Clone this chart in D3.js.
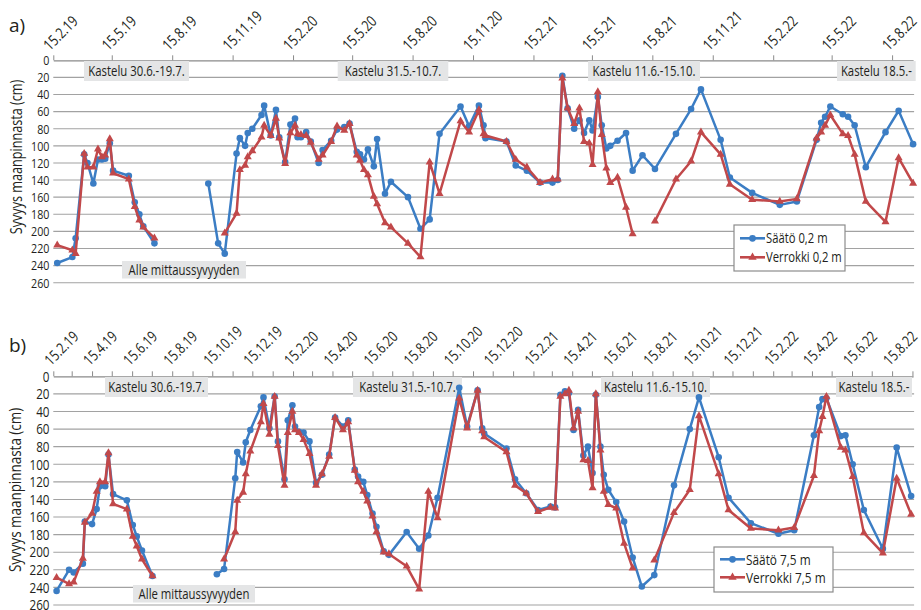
<!DOCTYPE html>
<html>
<head>
<meta charset="utf-8">
<script src="https://cdn.jsdelivr.net/npm/d3@7"></script>
<style>
  body { margin: 0; background: #fff; }
  text { font-family: "Open Sans", "Noto Sans", "DejaVu Sans", sans-serif; fill: #231f20; }
</style>
</head>
<body>
<svg id="chart" width="921" height="610"></svg>
<script>
// ---- Measurement dates and depths (cm below ground), 0.2 m tubes ----
const datesA = ["21.2.19","16.3.19","21.3.19","3.4.19","8.4.19","17.4.19","24.4.19","30.4.19","5.5.19","12.5.19","17.5.19","10.6.19","19.6.19","26.6.19","2.7.19","19.7.19",
  "9.10.19","24.10.19","3.11.19","21.11.19","26.11.19","4.12.19","8.12.19","15.12.19","29.12.19","2.1.20","12.1.20","20.1.20","25.1.20","3.2.20","11.2.20","18.2.20","22.2.20","27.2.20","6.3.20","13.3.20","25.3.20","31.3.20","13.4.20","22.4.20","3.5.20","11.5.20","22.5.20","27.5.20","2.6.20","8.6.20","17.6.20","22.6.20","4.7.20","13.7.20","8.8.20","27.8.20","10.9.20","25.9.20","27.10.20","9.11.20","24.11.20","1.12.20","4.12.20","5.1.21","19.1.21","5.2.21","25.2.21","16.3.21","24.3.21","31.3.21","8.4.21","18.4.21","26.4.21","3.5.21","11.5.21","16.5.21","24.5.21","30.5.21","6.6.21","12.6.21","23.6.21","6.7.21","16.7.21","31.7.21","19.8.21","20.9.21","13.10.21","28.10.21","27.11.21","11.12.21","14.1.22","25.2.22","23.3.22","22.4.22","29.4.22","5.5.22","13.5.22","1.6.22","9.6.22","19.6.22","6.7.22","5.8.22","25.8.22","16.9.22"];
const saatoA = [237,230,208,110,120,144,116,116,115,97,129,135,166,180,194,214,
  144,214,226,109,91,100,85,80,64,53,88,58,90,119,75,68,90,90,84,95,120,105,94,81,78,74,107,110,116,104,124,92,156,142,160,197,186,86,54,77,53,76,91,95,123,129,143,143,140,18,56,80,70,85,70,82,43,76,103,100,94,85,129,111,127,86,57,34,93,137,155,169,165,93,73,66,54,63,66,76,125,84,59,98];
const verrokkiA = [216,222,226,109,125,125,104,113,111,92,132,139,171,187,195,208,
  null,null,202,179,128,123,113,106,90,76,88,68,91,121,85,76,86,87,88,96,116,111,95,77,82,74,111,117,128,134,159,168,190,195,214,230,119,156,71,84,58,86,88,95,116,125,143,139,139,21,56,74,56,95,97,122,37,87,126,143,137,172,203,null,188,139,118,84,110,145,163,165,162,91,84,76,64,86,88,110,165,189,114,144];

// ---- 7.5 m tubes ----
const datesB = ["20.2.19","11.3.19","18.3.19","1.4.19","4.4.19","15.4.19","22.4.19","27.4.19","5.5.19","10.5.19","17.5.19","7.6.19","16.6.19","22.6.19","30.6.19","16.7.19",
  "22.10.19","2.11.19","19.11.19","22.11.19","1.12.19","5.12.19","12.12.19","28.12.19","1.1.20","10.1.20","18.1.20","23.1.20","2.2.20","7.2.20","14.2.20","18.2.20","24.2.20","2.3.20","11.3.20","21.3.20","30.3.20","10.4.20","19.4.20","1.5.20","9.5.20","19.5.20","24.5.20","1.6.20","7.6.20","15.6.20","21.6.20","2.7.20","10.7.20","6.8.20","25.8.20","8.9.20","22.9.20","25.10.20","6.11.20","22.11.20","29.11.20","2.12.20","5.1.21","18.1.21","4.2.21","22.2.21","13.3.21","20.3.21","28.3.21","4.4.21","10.4.21","17.4.21","24.4.21","2.5.21","9.5.21","16.5.21","21.5.21","28.5.21","2.6.21","9.6.21","21.6.21","3.7.21","16.7.21","30.7.21","18.8.21","17.9.21","11.10.21","25.10.21","24.11.21","9.12.21","12.1.22","23.2.22","19.3.22","18.4.22","26.4.22","1.5.22","7.5.22","29.5.22","5.6.22","16.6.22","3.7.22","1.8.22","22.8.22","13.9.22"];
const saatoB = [244,220,223,213,165,168,151,125,125,89,134,141,169,182,198,227,
  225,219,116,86,98,75,61,34,24,59,23,74,117,50,33,57,63,64,74,121,112,89,47,57,50,106,114,120,135,156,171,199,203,177,196,181,138,13,57,16,59,65,82,117,133,152,148,149,21,17,19,61,38,90,80,110,21,80,112,129,143,165,206,239,226,124,60,24,92,138,167,179,175,67,35,26,25,68,67,100,152,196,81,136];
const verrokkiB = [229,236,234,207,166,156,131,120,120,87,145,151,182,193,208,227,
  null,208,177,141,132,111,85,52,31,66,23,79,124,64,40,61,64,72,88,124,111,91,47,61,52,107,120,131,142,159,177,200,202,216,242,131,161,25,59,16,62,69,86,124,133,154,149,150,23,20,16,59,40,95,96,127,20,84,131,146,150,190,218,null,209,155,129,45,111,152,173,175,172,113,62,46,23,81,84,114,178,201,116,157];

// ---- Axis labels ----
const ticksA = ["15.2.19","15.5.19","15.8.19","15.11.19","15.2.20","15.5.20","15.8.20","15.11.20","15.2.21","15.5.21","15.8.21","15.11.21","15.2.22","15.5.22","15.8.22"];
const ticksB = ["15.2.19","15.4.19","15.6.19","15.8.19","15.10.19","15.12.19","15.2.20","15.4.20","15.6.20","15.8.20","15.10.20","15.12.20","15.2.21","15.4.21","15.6.21","15.8.21","15.10.21","15.12.21","15.2.22","15.4.22","15.6.22","15.8.22"];
const depthTicks = [0,20,40,60,80,100,120,140,160,180,200,220,240,260];
const irrigationNotes = ["Kastelu 30.6.-19.7.","Kastelu 31.5.-10.7.","Kastelu 11.6.-15.10.","Kastelu 18.5.-"];
const belowNote = "Alle mittaussyvyyden";
const yTitle = "Syvyys maanpinnasta (cm)";
const legendA = ["Säätö 0,2 m","Verrokki 0,2 m"];
const legendB = ["Säätö 7,5 m","Verrokki 7,5 m"];

const BLUE = "#3b7dc4", RED = "#c1484a";
const NARROW = 0.8;              // horizontal squeeze giving a condensed face
const parse = d3.timeParse("%d.%m.%y");
const fmt = d3.timeFormat("%-d.%-m.%y");
const svg = d3.select("#chart");

const x = d3.scaleTime()
  .domain([parse("15.2.19"), parse("16.9.22")])
  .range([53.3, 913.1]);

// place a text at (px, py), optionally rotated, drawn in the condensed width
function put(sel, px, py, rot) {
  return sel.attr("x", 0).attr("y", 0)
    .attr("transform", `translate(${px},${py})${rot ? ` rotate(${rot})` : ""} scale(${NARROW},1)`);
}

// split a series into points; a missing value or a long pause in measuring breaks the line
function points(dates, vals) {
  const out = [];
  let prev = null;
  dates.forEach((d, i) => {
    const date = parse(d);
    if (vals[i] != null && prev && (date - prev) / 864e5 > 60) out.push({ date, v: null });
    out.push({ date, v: vals[i] });
    if (vals[i] != null) prev = date;
  });
  return out;
}

function panel(o) {
  const g = svg.append("g");
  const y = d3.scaleLinear().domain([0, 260]).range([o.top, o.bottom]);
  const [x0, x1] = x.range();

  // horizontal grid
  g.append("g").selectAll("line").data(depthTicks.slice(1)).join("line")
    .attr("x1", x0).attr("x2", x1 + 1)
    .attr("y1", d => y(d)).attr("y2", d => y(d))
    .attr("stroke", "#a2a2a2").attr("stroke-width", 1.1);

  // depth labels
  g.append("g").selectAll("text").data(depthTicks).join("text")
    .each(function (d) { put(d3.select(this), 49.5, y(d)); })
    .attr("dy", "0.36em").attr("text-anchor", "end").style("font-size", o.yFont + "px")
    .text(d => d);

  // time axis along the top
  const labelled = new Set(o.labels.map(s => +parse(s)));
  const axis = d3.axisTop(x).tickValues(o.tickDates).tickSize(5).tickSizeOuter(0)
    .tickFormat(d => labelled.has(+d) ? fmt(d) : "");
  const ax = g.append("g").attr("transform", `translate(0,${o.top})`).call(axis);
  ax.select(".domain").attr("stroke", "#8a8a8a").attr("stroke-width", 1.2);
  ax.selectAll(".tick line").attr("stroke", "#8a8a8a");
  ax.selectAll(".tick text")
    .each(function () { put(d3.select(this), o.lx, o.ly, -45); })
    .attr("dy", null).attr("text-anchor", "start").attr("fill", "#231f20")
    .style("font-size", o.xFont + "px")
    .style("font-family", "'Open Sans','Noto Sans','DejaVu Sans',sans-serif");

  // note boxes
  o.notes.forEach(n => {
    g.append("rect").attr("x", n.x).attr("y", n.y).attr("width", n.w).attr("height", n.h).attr("fill", "#e4e5e6");
    put(g.append("text"), n.x + n.w / 2, n.y + n.h / 2).attr("dy", "0.36em")
      .attr("text-anchor", "middle").style("font-size", o.noteFont + "px").text(n.t);
  });

  // series
  const line = d3.line().defined(d => d.v != null).x(d => x(d.date)).y(d => y(d.v));
  const series = [
    { pts: points(o.dates, o.s1), color: BLUE, shape: "circle" },
    { pts: points(o.dates, o.s2), color: RED, shape: "triangle" }
  ];
  series.forEach(s => {
    g.append("path").datum(s.pts).attr("d", line)
      .attr("fill", "none").attr("stroke", s.color).attr("stroke-width", 2.5).attr("stroke-linejoin", "round");
    const pts = s.pts.filter(d => d.v != null);
    if (s.shape === "circle") {
      g.append("g").selectAll("circle").data(pts).join("circle")
        .attr("cx", d => x(d.date)).attr("cy", d => y(d.v)).attr("r", 3.3).attr("fill", s.color);
    } else {
      const tri = d3.symbol(d3.symbolTriangle, 28)();
      g.append("g").selectAll("path").data(pts).join("path")
        .attr("d", tri).attr("transform", d => `translate(${x(d.date)},${y(d.v)})`).attr("fill", s.color);
    }
  });

  // legend
  const L = o.legend;
  g.append("rect").attr("x", L.x).attr("y", L.y).attr("width", L.w).attr("height", L.h)
    .attr("fill", "#fff").attr("stroke", "#8c8c8c").attr("stroke-width", 1.2);
  [[o.legendText[0], BLUE, "circle"], [o.legendText[1], RED, "triangle"]].forEach((e, i) => {
    const ly = L.y + L.r0 + i * L.dy;
    g.append("line").attr("x1", L.x + 6).attr("x2", L.x + 31).attr("y1", ly).attr("y2", ly)
      .attr("stroke", e[1]).attr("stroke-width", 2.6);
    if (e[2] === "circle") g.append("circle").attr("cx", L.x + 18.5).attr("cy", ly).attr("r", 3.4).attr("fill", e[1]);
    else g.append("path").attr("d", d3.symbol(d3.symbolTriangle, 30)()).attr("transform", `translate(${L.x + 18.5},${ly})`).attr("fill", e[1]);
    put(g.append("text"), L.x + 32, ly).attr("dy", "0.36em")
      .style("font-size", o.legendFont + "px").text(e[0]);
  });

  // panel letter and axis title
  g.append("text").attr("x", 9).attr("y", o.letterY).style("font-size", "19px").text(o.letter);
  put(g.append("text"), o.titleX, o.titleY, -90)
    .attr("text-anchor", "middle").style("font-size", o.titleFont + "px").text(yTitle);
}

const monthly = d3.range(44).map(i => new Date(2019, 1 + i, 15));

panel({
  top: 60.3, bottom: 282.7, dates: datesA, s1: saatoA, s2: verrokkiA,
  tickDates: ticksA.map(parse), labels: ticksA, lx: -4, ly: -9,
  xFont: 15.2, yFont: 13.4, noteFont: 14.2, legendFont: 14.1, titleFont: 15.8,
  titleX: 21.5, titleY: 157, letter: "a)", letterY: 32,
  notes: [
    { x: 84, y: 61, w: 105, h: 20, t: irrigationNotes[0] },
    { x: 337.7, y: 61, w: 110.6, h: 20, t: irrigationNotes[1] },
    { x: 588, y: 61, w: 112, h: 20, t: irrigationNotes[2] },
    { x: 837, y: 61, w: 78.7, h: 20, t: irrigationNotes[3] },
    { x: 122, y: 261, w: 124, h: 17.5, t: belowNote }
  ],
  legend: { x: 734, y: 225, w: 111, h: 46, r0: 13.3, dy: 19 },
  legendText: legendA
});

panel({
  top: 376.3, bottom: 605, dates: datesB, s1: saatoB, s2: verrokkiB,
  tickDates: monthly, labels: ticksB, lx: -3, ly: -10,
  xFont: 15, yFont: 14.6, noteFont: 14.2, legendFont: 14.8, titleFont: 16.8,
  titleX: 21, titleY: 490, letter: "b)", letterY: 352,
  notes: [
    { x: 105, y: 377, w: 103, h: 20, t: irrigationNotes[0] },
    { x: 353, y: 377, w: 109, h: 20, t: irrigationNotes[1] },
    { x: 601, y: 377, w: 109, h: 20, t: irrigationNotes[2] },
    { x: 836, y: 377, w: 76, h: 20, t: irrigationNotes[3] },
    { x: 133, y: 585, w: 122, h: 17.5, t: belowNote }
  ],
  legend: { x: 714, y: 547, w: 119, h: 45, r0: 12.3, dy: 18 },
  legendText: legendB
});
</script>
</body>
</html>
